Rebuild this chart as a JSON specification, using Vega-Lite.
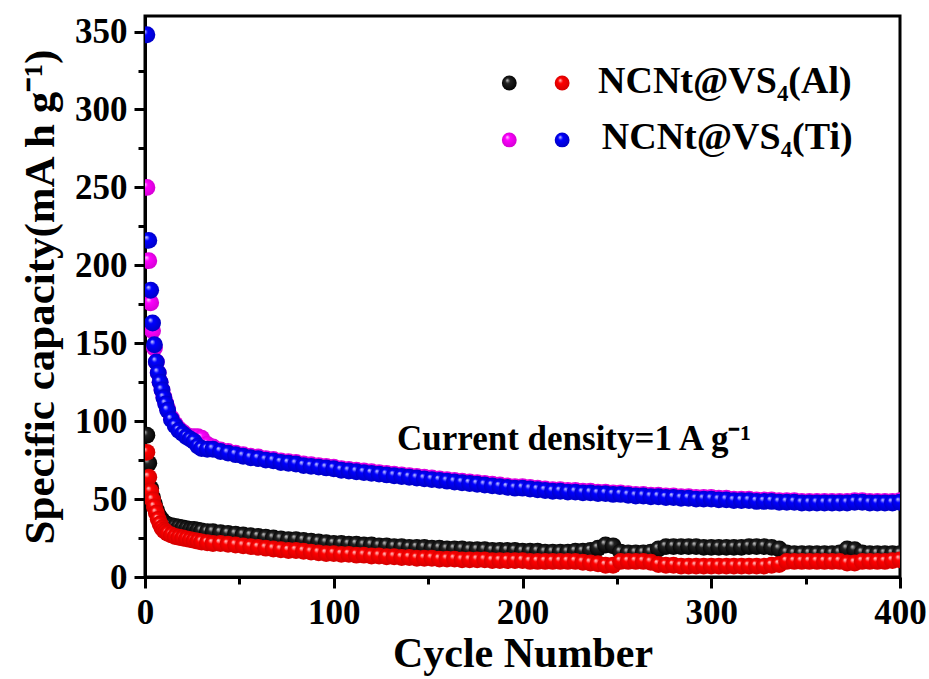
{
  "$schema": "https://vega.github.io/schema/vega-lite/v6.json",
  "width": 755,
  "height": 561,
  "autosize": {"type": "none"},
  "padding": {"left": 145, "top": 16, "right": 29, "bottom": 102},
  "background": "white",
  "config": {
    "view": {"stroke": "black", "strokeWidth": 3},
    "font": "Liberation Serif",
    "axis": {
      "domainColor": "black", "domainWidth": 3, "tickColor": "black", "tickWidth": 3,
      "labelFont": "Liberation Serif", "labelFontWeight": "bold", "labelFontSize": 35, "labelColor": "black",
      "titleFont": "Liberation Serif", "titleFontWeight": "bold", "titleColor": "black", "grid": false
    }
  },
  "data": {"values": [
    {"c":1,"a":91,"b":80,"t":250,"u":348},
    {"c":2,"a":73,"b":64,"t":203,"u":216},
    {"c":3,"a":57,"b":55,"t":176,"u":184},
    {"c":4,"a":51,"b":49.5,"t":158,"u":163},
    {"c":5,"a":47,"b":45,"t":147,"u":149},
    {"c":6,"a":43,"b":41,"t":138,"u":138},
    {"c":7,"a":40,"b":37,"t":131,"u":131},
    {"c":8,"a":38,"b":34,"t":125,"u":125},
    {"c":9,"a":36.5,"b":31.5,"t":120,"u":120},
    {"c":10,"a":35,"b":30,"t":115.5,"u":115},
    {"c":11,"a":34,"b":29,"t":111.5,"u":111},
    {"c":12,"a":33.5,"b":28,"t":108,"u":107},
    {"c":14,"a":33,"b":27,"t":102,"u":101},
    {"c":16,"a":32.5,"b":26,"t":98,"u":97},
    {"c":18,"a":32,"b":25.5,"t":95,"u":94},
    {"c":20,"a":31.5,"b":25,"t":93,"u":92},
    {"c":22,"a":31,"b":24.5,"t":91,"u":90},
    {"c":24,"a":30.5,"b":24,"t":90,"u":88.5},
    {"c":26,"a":30.5,"b":23.5,"t":90,"u":87},
    {"c":28,"a":30,"b":23,"t":90,"u":84},
    {"c":30,"a":29.5,"b":22.5,"t":89,"u":82.5},
    {"c":33,"a":29,"b":22,"t":85,"u":82},
    {"c":36,"a":29,"b":21.5,"t":83.5,"u":82},
    {"c":40,"a":28.5,"b":21.5,"t":81.5,"u":80.5},
    {"c":44,"a":28,"b":21,"t":80.5,"u":79.5},
    {"c":48,"a":27.5,"b":20.5,"t":79.5,"u":78.5},
    {"c":52,"a":27,"b":20,"t":78.5,"u":77.5},
    {"c":56,"a":26.5,"b":19.5,"t":77.5,"u":76.5},
    {"c":60,"a":26,"b":19,"t":77,"u":76},
    {"c":64,"a":25.5,"b":18.5,"t":76,"u":75},
    {"c":68,"a":25,"b":18,"t":75.5,"u":74.5},
    {"c":72,"a":24.5,"b":17.5,"t":74.5,"u":73.5},
    {"c":76,"a":24,"b":17,"t":74,"u":73},
    {"c":80,"a":24,"b":17,"t":73.5,"u":72.5},
    {"c":84,"a":23.5,"b":16.5,"t":72.5,"u":71.5},
    {"c":88,"a":23,"b":16,"t":72,"u":71},
    {"c":92,"a":22.5,"b":15.5,"t":71.5,"u":70.5},
    {"c":96,"a":22,"b":15,"t":71,"u":70},
    {"c":100,"a":21.5,"b":15,"t":70.5,"u":69.5},
    {"c":104,"a":21.5,"b":14.5,"t":69.5,"u":68.5},
    {"c":108,"a":21,"b":14.5,"t":69,"u":68},
    {"c":112,"a":21,"b":14,"t":68.5,"u":67.5},
    {"c":116,"a":20.5,"b":14,"t":68,"u":67},
    {"c":120,"a":20.5,"b":13.5,"t":67.5,"u":66.5},
    {"c":124,"a":20,"b":13.5,"t":67,"u":66},
    {"c":128,"a":20,"b":13,"t":66.5,"u":65.5},
    {"c":132,"a":19.5,"b":13,"t":66,"u":65},
    {"c":136,"a":19.5,"b":12.5,"t":65.5,"u":64.5},
    {"c":140,"a":19,"b":12.5,"t":65,"u":64},
    {"c":144,"a":19,"b":12,"t":64.5,"u":63.5},
    {"c":148,"a":19,"b":12,"t":64,"u":63},
    {"c":152,"a":18.5,"b":12,"t":63.5,"u":62.5},
    {"c":156,"a":18.5,"b":11.5,"t":63,"u":62},
    {"c":160,"a":18,"b":11.5,"t":62.5,"u":61.5},
    {"c":164,"a":18,"b":11.5,"t":62,"u":61},
    {"c":168,"a":18,"b":11,"t":61.5,"u":60.5},
    {"c":172,"a":17.5,"b":11,"t":61,"u":60},
    {"c":176,"a":17.5,"b":11,"t":60.5,"u":59.5},
    {"c":180,"a":17.5,"b":11,"t":60,"u":59},
    {"c":184,"a":17,"b":10.5,"t":59.5,"u":58.5},
    {"c":188,"a":17,"b":10.5,"t":59,"u":58},
    {"c":192,"a":17,"b":10.5,"t":58.5,"u":57.5},
    {"c":196,"a":17,"b":10.5,"t":58,"u":57},
    {"c":200,"a":16.5,"b":10.5,"t":58,"u":57},
    {"c":204,"a":16.5,"b":10,"t":57.5,"u":56.5},
    {"c":208,"a":16.5,"b":10,"t":57,"u":56},
    {"c":212,"a":16,"b":10,"t":56.5,"u":55.5},
    {"c":216,"a":16,"b":10,"t":56,"u":55},
    {"c":220,"a":16,"b":10,"t":56,"u":55},
    {"c":224,"a":16,"b":10,"t":55.5,"u":54.5},
    {"c":228,"a":16.5,"b":10,"t":55.5,"u":54.5},
    {"c":232,"a":16.5,"b":9.5,"t":55,"u":54},
    {"c":236,"a":17,"b":9,"t":55,"u":54},
    {"c":240,"a":18.5,"b":8.5,"t":54.5,"u":53.5},
    {"c":244,"a":20.5,"b":7.5,"t":54.5,"u":53.5},
    {"c":248,"a":20,"b":7.5,"t":54,"u":53},
    {"c":252,"a":16,"b":10,"t":54,"u":53},
    {"c":256,"a":15.5,"b":10,"t":53.5,"u":52.5},
    {"c":260,"a":15.5,"b":10,"t":53,"u":52},
    {"c":264,"a":15.5,"b":10,"t":53,"u":52},
    {"c":268,"a":16,"b":9.5,"t":52.5,"u":51.5},
    {"c":272,"a":18,"b":8,"t":52.5,"u":51.5},
    {"c":276,"a":19.5,"b":7.5,"t":52,"u":51},
    {"c":280,"a":19.5,"b":7.5,"t":52,"u":51},
    {"c":284,"a":19.5,"b":7,"t":51.5,"u":50.5},
    {"c":288,"a":19.5,"b":7,"t":51.5,"u":50.5},
    {"c":292,"a":19.5,"b":7,"t":51,"u":50},
    {"c":296,"a":19,"b":7,"t":51,"u":50},
    {"c":300,"a":19,"b":7,"t":51,"u":50},
    {"c":304,"a":19,"b":7,"t":50.5,"u":49.5},
    {"c":308,"a":19,"b":7,"t":50.5,"u":49.5},
    {"c":312,"a":19,"b":7,"t":50,"u":49},
    {"c":316,"a":19,"b":7,"t":50,"u":49},
    {"c":320,"a":19.5,"b":7,"t":50,"u":49},
    {"c":324,"a":19.5,"b":7,"t":49.5,"u":48.5},
    {"c":328,"a":19.5,"b":7,"t":49.5,"u":48.5},
    {"c":332,"a":19,"b":7.5,"t":49.5,"u":48.5},
    {"c":336,"a":18,"b":8,"t":49,"u":48},
    {"c":340,"a":15.5,"b":10,"t":49,"u":48},
    {"c":344,"a":15,"b":10,"t":49,"u":48},
    {"c":348,"a":15,"b":10,"t":48.5,"u":47.5},
    {"c":352,"a":15,"b":10,"t":48.5,"u":47.5},
    {"c":356,"a":15,"b":10,"t":48.5,"u":47.5},
    {"c":360,"a":15,"b":10,"t":48.5,"u":47.5},
    {"c":364,"a":15,"b":10,"t":48.5,"u":47.5},
    {"c":368,"a":15.5,"b":10,"t":48.5,"u":47.5},
    {"c":372,"a":18,"b":9,"t":48.5,"u":47.5},
    {"c":376,"a":17.5,"b":9,"t":49,"u":48},
    {"c":380,"a":15.5,"b":10,"t":49,"u":48},
    {"c":384,"a":15,"b":10,"t":48.5,"u":47.5},
    {"c":388,"a":15,"b":10,"t":48.5,"u":47.5},
    {"c":392,"a":15,"b":10,"t":48.5,"u":47.5},
    {"c":396,"a":15,"b":10.5,"t":48.5,"u":47.5},
    {"c":400,"a":15,"b":11,"t":49,"u":48}
  ]},
  "encoding": {
    "x": {
      "field": "c", "type": "quantitative",
      "scale": {"domain": [0, 400], "nice": false, "zero": false},
      "axis": {
        "title": "Cycle Number", "titleFontSize": 42, "titlePadding": 3,
        "values": [0, 50, 100, 150, 200, 250, 300, 350, 400],
        "labelExpr": "datum.value % 100 === 0 ? datum.label : ''",
        "tickSize": {"condition": {"test": "datum.value % 100 === 0", "value": 11}, "value": 7},
        "labelPadding": 7, "labelOverlap": false, "labelFlush": false
      }
    },
    "y": {
      "field": "v", "type": "quantitative",
      "scale": {"domain": [0, 360], "nice": false},
      "axis": {
        "title": "Specific capacity(mA h g⁻¹)", "titleFontSize": 43, "titlePadding": 12,
        "values": [0, 25, 50, 75, 100, 125, 150, 175, 200, 225, 250, 275, 300, 325, 350],
        "labelExpr": "datum.value % 50 === 0 ? datum.label : ''",
        "tickSize": {"condition": {"test": "datum.value % 50 === 0", "value": 11}, "value": 7},
        "labelPadding": 7, "labelOverlap": false
      }
    }
  },
  "layer": [
    {
      "transform": [{"fold": ["a"], "as": ["k", "v"]}],
      "mark": {"type": "point", "filled": true, "size": 285, "opacity": 1, "strokeWidth": 0, "clip": true,
        "fill": {"gradient": "radial", "x1": 0.35, "y1": 0.3, "r1": 0, "x2": 0.5, "y2": 0.5, "r2": 0.55,
          "stops": [{"offset": 0, "color": "#d8d8d8"}, {"offset": 0.3, "color": "#222222"}, {"offset": 1, "color": "#000000"}]}}
    },
    {
      "transform": [{"fold": ["b"], "as": ["k", "v"]}],
      "mark": {"type": "point", "filled": true, "size": 285, "opacity": 1, "strokeWidth": 0, "clip": true,
        "fill": {"gradient": "radial", "x1": 0.35, "y1": 0.3, "r1": 0, "x2": 0.5, "y2": 0.5, "r2": 0.55,
          "stops": [{"offset": 0, "color": "#ffe0e0"}, {"offset": 0.3, "color": "#ff0000"}, {"offset": 1, "color": "#d00000"}]}}
    },
    {
      "transform": [{"fold": ["t"], "as": ["k", "v"]}],
      "mark": {"type": "point", "filled": true, "size": 285, "opacity": 1, "strokeWidth": 0, "clip": true,
        "fill": {"gradient": "radial", "x1": 0.35, "y1": 0.3, "r1": 0, "x2": 0.5, "y2": 0.5, "r2": 0.55,
          "stops": [{"offset": 0, "color": "#ffe0ff"}, {"offset": 0.3, "color": "#ff00ff"}, {"offset": 1, "color": "#d000d0"}]}}
    },
    {
      "transform": [{"fold": ["u"], "as": ["k", "v"]}],
      "mark": {"type": "point", "filled": true, "size": 285, "opacity": 1, "strokeWidth": 0, "clip": true,
        "fill": {"gradient": "radial", "x1": 0.35, "y1": 0.3, "r1": 0, "x2": 0.5, "y2": 0.5, "r2": 0.55,
          "stops": [{"offset": 0, "color": "#e0e0ff"}, {"offset": 0.3, "color": "#0000ff"}, {"offset": 1, "color": "#0000c0"}]}}
    },
    {
      "data": {"values": [{"c": 193, "v": 317}]},
      "mark": {"type": "point", "filled": true, "size": 220, "opacity": 1, "strokeWidth": 0,
        "fill": {"gradient": "radial", "x1": 0.35, "y1": 0.3, "r1": 0, "x2": 0.5, "y2": 0.5, "r2": 0.55,
          "stops": [{"offset": 0, "color": "#d8d8d8"}, {"offset": 0.3, "color": "#222222"}, {"offset": 1, "color": "#000000"}]}}
    },
    {
      "data": {"values": [{"c": 221, "v": 317}]},
      "mark": {"type": "point", "filled": true, "size": 220, "opacity": 1, "strokeWidth": 0,
        "fill": {"gradient": "radial", "x1": 0.35, "y1": 0.3, "r1": 0, "x2": 0.5, "y2": 0.5, "r2": 0.55,
          "stops": [{"offset": 0, "color": "#ffe0e0"}, {"offset": 0.3, "color": "#ff0000"}, {"offset": 1, "color": "#d00000"}]}}
    },
    {
      "data": {"values": [{"c": 193, "v": 280.5}]},
      "mark": {"type": "point", "filled": true, "size": 220, "opacity": 1, "strokeWidth": 0,
        "fill": {"gradient": "radial", "x1": 0.35, "y1": 0.3, "r1": 0, "x2": 0.5, "y2": 0.5, "r2": 0.55,
          "stops": [{"offset": 0, "color": "#ffe0ff"}, {"offset": 0.3, "color": "#ff00ff"}, {"offset": 1, "color": "#d000d0"}]}}
    },
    {
      "data": {"values": [{"c": 221, "v": 280.5}]},
      "mark": {"type": "point", "filled": true, "size": 220, "opacity": 1, "strokeWidth": 0,
        "fill": {"gradient": "radial", "x1": 0.35, "y1": 0.3, "r1": 0, "x2": 0.5, "y2": 0.5, "r2": 0.55,
          "stops": [{"offset": 0, "color": "#e0e0ff"}, {"offset": 0.3, "color": "#0000ff"}, {"offset": 1, "color": "#0000c0"}]}}
    },
    {
      "data": {"values": [
        {"c": 240, "v": 310.6, "label": "NCNt@VS₄(Al)"},
        {"c": 242, "v": 274.5, "label": "NCNt@VS₄(Ti)"}
      ]},
      "mark": {"type": "text", "align": "left", "baseline": "alphabetic", "font": "Liberation Serif", "fontWeight": "bold", "fontSize": 38, "color": "black"},
      "encoding": {"text": {"field": "label"}}
    },
    {
      "data": {"values": [{"c": 133.5, "v": 81.5, "label": "Current density=1 A g⁻¹"}]},
      "mark": {"type": "text", "align": "left", "baseline": "alphabetic", "font": "Liberation Serif", "fontWeight": "bold", "fontSize": 35, "color": "black"},
      "encoding": {"text": {"field": "label"}}
    }
  ]
}
